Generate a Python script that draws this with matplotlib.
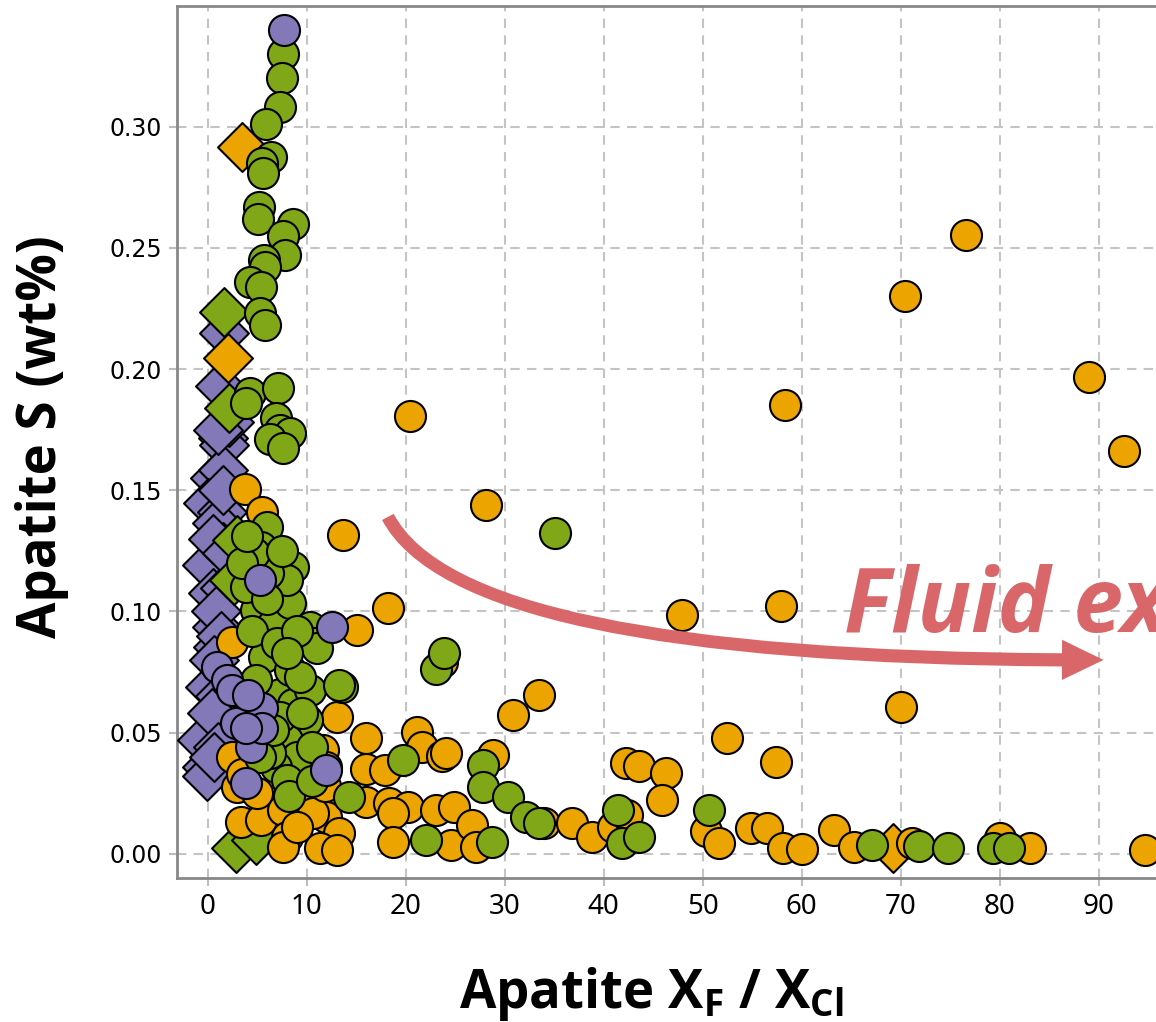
import matplotlib
matplotlib.use("Agg")
import matplotlib.pyplot as plt
from matplotlib.patches import FancyArrowPatch
from matplotlib.path import Path

# colores de los grupos
c_orange = '#eca400'
c_green = '#7fa717'
c_purple = '#8379b8'
c_arrow = '#d9676a'

# circulos naranja
orange_circ_x = [76.6, 70.4, 89.0, 92.6, 58.3, 20.4, 28.1, 13.7, 3.8, 5.5, 18.2, 47.9, 57.9, 15.1,
                 23.7, 33.5, 30.8, 70.0, 13.1, 21.1, 21.6, 16.0, 23.7, 24.1, 28.8, 52.5, 57.4, 42.3,
                 43.6, 46.3, 45.9, 16.0, 17.9, 2.5,
                 16.0, 18.3, 20.2, 18.7, 23.1, 24.9, 18.7, 24.6, 26.7, 27.1, 34.0, 36.8, 38.8, 40.9,
                 42.4, 50.3, 51.6, 54.9, 56.5, 58.1, 60.0, 63.3, 65.3, 71.1, 80.0, 83.1, 94.7,
                 2.5, 3.0, 3.4, 5.4, 7.6, 8.0, 7.6, 11.3, 11.0, 12.0, 13.3, 11.3, 13.1, 11.6, 12.0,
                 9.6, 10.6, 9.0, 11.8, 3.5, 5.0]
orange_circ_y = [0.2553, 0.230, 0.1968, 0.1662, 0.185, 0.1807, 0.144, 0.1316, 0.1506, 0.141, 0.1015,
                 0.0986, 0.1023, 0.0924, 0.079, 0.0656, 0.0573, 0.0606, 0.0565, 0.0503, 0.0440,
                 0.0479, 0.0404, 0.0417, 0.0408, 0.0479, 0.038, 0.0375, 0.0362, 0.0334, 0.022,
                 0.0350, 0.0347, 0.0875,
                 0.0215, 0.021, 0.0194, 0.0169, 0.0182, 0.0194, 0.005, 0.0037, 0.012, 0.0029, 0.0128,
                 0.0128, 0.007, 0.0111, 0.016, 0.0095, 0.0045, 0.0107, 0.0107, 0.0025, 0.0021,
                 0.0099, 0.0029, 0.0045, 0.0066, 0.0025, 0.0017,
                 0.040, 0.0276, 0.0132, 0.014, 0.018, 0.007, 0.0029, 0.021, 0.025, 0.0153, 0.0087,
                 0.0025, 0.0017, 0.043, 0.036, 0.021, 0.0169, 0.011, 0.028, 0.033, 0.025]

# circulos verdes
green_circ_x = [7.57, 7.47, 7.27, 5.85, 6.36, 5.45, 5.55, 5.15, 5.05, 8.58, 7.57, 7.77, 5.65, 5.75,
                4.24, 5.35, 5.25, 5.75, 4.24, 7.06, 3.9, 6.9, 7.3, 8.3, 6.3, 7.57,
                6.0, 5.4, 8.6, 4.9, 6.6, 8.3, 8.0, 10.3, 10.8, 6.1, 4.7, 3.9, 5.7, 11.0, 13.6, 10.0,
                7.3, 8.6, 8.0, 9.0, 6.9, 8.0, 6.3, 8.3, 7.3, 14.3, 4.9, 6.6, 5.3, 10.3, 9.3, 13.3,
                4.5, 5.0, 7.0, 9.0, 6.0, 3.5, 4.0, 7.5, 8.0, 9.5, 10.5, 8.2, 10.5,
                19.7, 22.1, 28.7, 27.8, 27.8, 30.3, 32.2, 33.5, 41.4, 41.8, 43.6, 50.6, 67.1, 71.8,
                74.8, 79.3, 80.9, 23.1, 23.9, 35.1]
green_circ_y = [0.330, 0.320, 0.308, 0.301, 0.2875, 0.285, 0.281, 0.267, 0.262, 0.260, 0.255, 0.247,
                0.245, 0.242, 0.236, 0.234, 0.223, 0.218, 0.190, 0.192, 0.186, 0.180, 0.175, 0.1737,
                0.171, 0.1675,
                0.135, 0.1266, 0.1184, 0.1006, 0.095, 0.1035, 0.113, 0.0936, 0.087, 0.116, 0.124,
                0.110, 0.081, 0.085, 0.069, 0.055, 0.066, 0.062, 0.047, 0.040, 0.036, 0.0305, 0.0417,
                0.076, 0.0565, 0.0235, 0.0718, 0.051, 0.040, 0.0677, 0.073, 0.0697,
                0.092, 0.060, 0.087, 0.092, 0.105, 0.120, 0.131, 0.125, 0.083, 0.058, 0.044, 0.024,
                0.030,
                0.0388, 0.0058, 0.005, 0.0367, 0.0276, 0.0235, 0.0153, 0.0128, 0.0182, 0.0045, 0.007,
                0.0182, 0.0037, 0.0033, 0.0025, 0.0025, 0.0025, 0.0763, 0.0829, 0.1324]

# circulos morados
purple_circ_x = [7.67, 5.25, 12.6, 0.9, 1.9, 2.5, 5.5, 2.9, 4.4, 3.9, 12.0, 5.5, 3.9, 4.1]
purple_circ_y = [0.340, 0.113, 0.0936, 0.077, 0.0718, 0.0677, 0.060, 0.054, 0.044, 0.029, 0.0347,
                 0.052, 0.052, 0.0656]

# diamantes
purple_diam_x = [1.6, 1.2, 1.5, 1.6, 0.7, 1.5, 0.0, 1.4, 0.9, 1.5, 0.9, -0.1, 0.5, 1.7, 0.9, 1.0,
                 0.2, -0.6, -0.1, -0.1, 0.5, 2.0, 0.8, 1.3, 0.6, 1.2, 0.4, 1.0, 0.6, 1.5, 2.2, 1.0]
purple_diam_y = [0.215, 0.193, 0.1716, 0.1687, 0.155, 0.1584, 0.1448, 0.141, 0.1365, 0.1266, 0.123,
                 0.119, 0.1077, 0.1097, 0.0936, 0.0854, 0.069, 0.047, 0.036, 0.032, 0.130, 0.124,
                 0.100, 0.090, 0.080, 0.065, 0.058, 0.044, 0.040, 0.150, 0.178, 0.175]
orange_diam_x = [3.5, 2.1, 69.2]
orange_diam_y = [0.2917, 0.2046, 0.0025]
green_diam_x = [1.6, 2.2, 3.0, 2.7, 2.9, 4.9]
green_diam_y = [0.2236, 0.184, 0.1295, 0.113, 0.0025, 0.0058]

# flecha (inicio, control, fin)
arrow_x = [18.2, 25.9, 90.5]
arrow_y = [0.139, 0.0792, 0.080]

label_font = 'Open Sans'

fig = plt.figure(figsize=(11.56, 10.22), dpi=100)
ax = fig.add_axes([177 / 1156, 144 / 1022, 1020.7 / 1156, 872.4 / 1022])

s_circ = 500
s_diam = 620
kw = dict(edgecolors='black', linewidths=1.5)
ax.scatter(purple_diam_x, purple_diam_y, s=s_diam, marker='D', c=c_purple, zorder=3, **kw)
ax.scatter(orange_diam_x, orange_diam_y, s=s_diam, marker='D', c=c_orange, zorder=3, **kw)
ax.scatter(green_diam_x, green_diam_y, s=s_diam, marker='D', c=c_green, zorder=3, **kw)
ax.scatter(orange_circ_x, orange_circ_y, s=s_circ, marker='o', c=c_orange, zorder=4, **kw)
ax.scatter(green_circ_x, green_circ_y, s=s_circ, marker='o', c=c_green, zorder=5, **kw)
ax.scatter(purple_circ_x, purple_circ_y, s=s_circ, marker='o', c=c_purple, zorder=6, **kw)

ax.set_xlim(-3.1, 100)
ax.set_ylim(-0.01, 0.35)
ax.set_xticks(range(0, 91, 10))
ax.set_yticks([0, 0.05, 0.10, 0.15, 0.20, 0.25, 0.30])
ax.set_yticklabels(['0.00', '0.05', '0.10', '0.15', '0.20', '0.25', '0.30'],
                   family='DejaVu Sans', fontsize=17)
for lab in ax.get_xticklabels():
    lab.set_family('Noto Sans')
    lab.set_fontsize(20)
ax.tick_params(direction='out', length=6, width=1.5, color='#bdbdbd', pad=5)
ax.grid(True, color='#c4c4c4', linestyle=(0, (4.5, 3.5)), linewidth=1.5)
ax.set_axisbelow(True)
for side in ['left', 'bottom', 'top']:
    ax.spines[side].set_color('#888888')
    ax.spines[side].set_linewidth(2)
ax.spines['right'].set_visible(False)

# flecha curva
verts = list(zip(arrow_x, arrow_y))
path = Path(verts, [Path.MOVETO, Path.CURVE3, Path.CURVE3])
arrow = FancyArrowPatch(path=path, arrowstyle='simple,tail_width=9.5,head_width=29,head_length=30',
                        color=c_arrow, lw=0, zorder=7)
ax.add_patch(arrow)
ax.text(64.3, 0.0916, 'Fluid ex', color=c_arrow, fontsize=64, fontweight='bold',
        fontstyle='italic', family=label_font, ha='left', va='baseline', zorder=8)

fig.text(42 / 1156, 1 - 437 / 1022, 'Apatite S (wt%)', rotation=90, ha='center', va='center',
         fontsize=38, fontweight='bold', family=label_font)
fig.text(651 / 1156, 1 - 1008 / 1022, r'Apatite X$_\mathregular{F}$ / X$_\mathregular{Cl}$',
         ha='center', va='baseline', fontsize=38, fontweight='bold', family=label_font)

fig.savefig('out.png', dpi=100)
